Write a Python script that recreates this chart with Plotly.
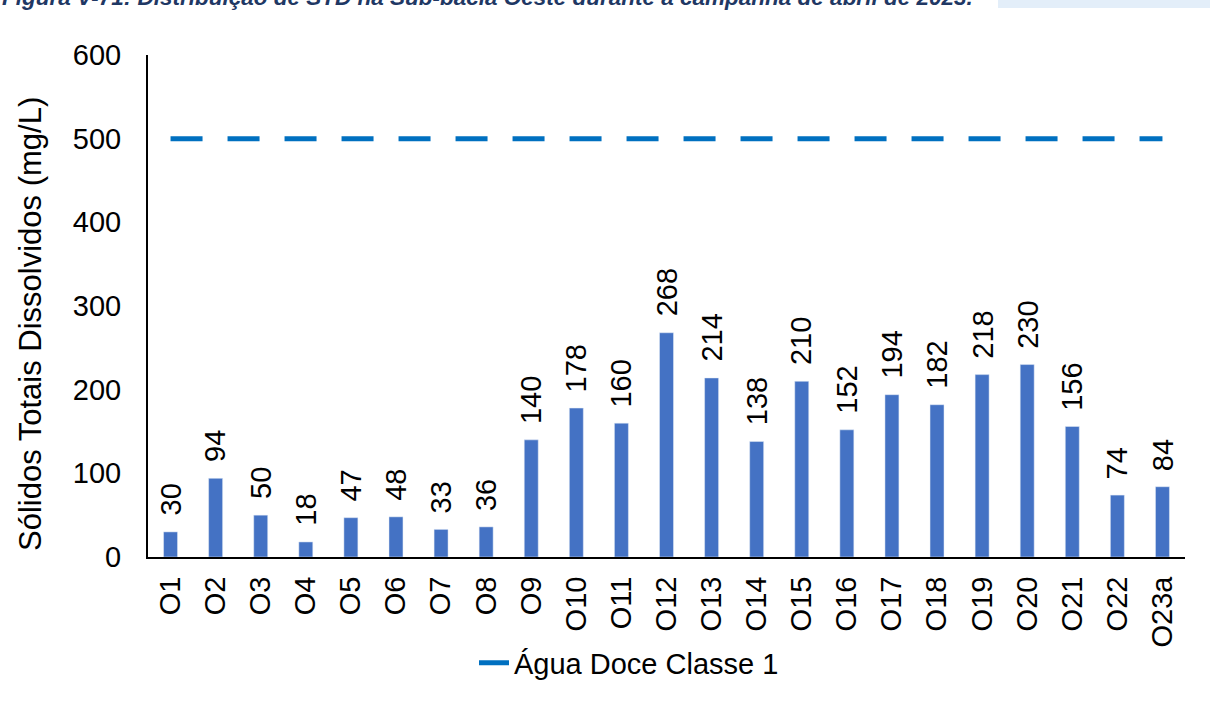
import plotly.graph_objects as go

categories = ["O1","O2","O3","O4","O5","O6","O7","O8","O9","O10","O11","O12",
              "O13","O14","O15","O16","O17","O18","O19","O20","O21","O22","O23a"]
std_values = [30, 94, 50, 18, 47, 48, 33, 36, 140, 178, 160, 268,
              214, 138, 210, 152, 194, 182, 218, 230, 156, 74, 84]
limit_value = 500
limit_name = "Água Doce Classe 1"
y_title = "Sólidos Totais Dissolvidos (mg/L)"
fig_title = "Figura V-71: Distribuição de STD na Sub-bacia Oeste durante a campanha de abril de 2023."

FONT = "Arial, Liberation Sans, sans-serif"
W, H = 1210, 704
L, R, T, B = 148, 25, 55, 147
PW, PH = W - L - R, H - T - B

def px_x(p):
    return (p - L) / PW

def px_y(p):
    return (H - B - p) / PH

fig = go.Figure()
fig.add_trace(go.Bar(
    x=categories, y=std_values, marker_color="#4472C4", width=0.31,
    showlegend=False, hoverinfo="x+y",
))
fig.add_trace(go.Scatter(
    x=categories, y=[limit_value]*len(categories), mode="lines",
    line=dict(color="#0070C0", width=5, dash="32px,25px"),
    name=limit_name,
))

for c, v in zip(categories, std_values):
    fig.add_annotation(x=c, y=v, text=str(v), textangle=-90, showarrow=False,
                       xanchor="center", yanchor="bottom", yshift=14,
                       font=dict(family=FONT, size=29, color="#000000"))

# y-axis title
fig.add_annotation(xref="paper", yref="paper", x=px_x(30), y=px_y(324), text=y_title,
                   textangle=-90, showarrow=False, xanchor="center", yanchor="middle",
                   font=dict(family=FONT, size=31, color="#000000"))

# clipped figure caption at top
fig.add_shape(type="rect", xref="paper", yref="paper", x0=px_x(998), x1=px_x(1215),
              y0=px_y(8), y1=px_y(-5), fillcolor="#E3EEF9", line_width=0, layer="below")
fig.add_annotation(xref="paper", yref="paper", x=px_x(0), y=px_y(12),
                   xanchor="left", yanchor="bottom", showarrow=False, text="<b><i>"+fig_title+"</i></b>",
                   font=dict(family=FONT, size=22.5, color="#1F3864"))

fig.update_layout(
    width=W, height=H,
    margin=dict(l=L, r=R, t=T, b=B),
    plot_bgcolor="white", paper_bgcolor="white",
    font=dict(family=FONT, color="#000000"),
    legend=dict(orientation="h", x=px_x(474), xanchor="left", y=px_y(663), yanchor="middle",
                font=dict(size=29, color="#000000")),
    xaxis=dict(showline=True, linecolor="#000000", linewidth=2, tickangle=-90,
               tickfont=dict(size=29), ticks="", ticklabelstandoff=6,
               showgrid=False, zeroline=False, automargin=False),
    yaxis=dict(range=[0, 600], dtick=100, showline=True, linecolor="#000000", linewidth=2,
               tickfont=dict(size=29), ticks="", ticklabelstandoff=19,
               showgrid=False, zeroline=False, automargin=False),
)

fig.write_html("out.html", config={"displayModeBar": False},
               post_script="document.body.style.margin='0';")
